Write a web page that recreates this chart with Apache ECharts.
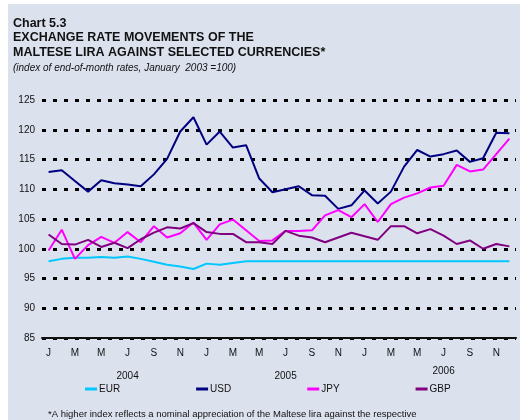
<!DOCTYPE html>
<html>
<head>
<meta charset="utf-8">
<script src="https://cdn.jsdelivr.net/npm/echarts@6/dist/echarts.min.js"></script>
<style>
  html, body { margin: 0; padding: 0; background: #ffffff; }
  #main { width: 520px; height: 420px; }
</style>
</head>
<body>
<div id="main"></div>
<script>
// month letters and years on the x axis
var monthLetters = ['J', 'F', 'M', 'A', 'M', 'J', 'J', 'A', 'S', 'O', 'N', 'D'];
var years = ['2004', '2005', '2006'];

// index of end-of-month rates, Jan 2003 = 100
var eur = [97.9, 98.3, 98.5, 98.5, 98.6, 98.5, 98.7, 98.3, 97.8, 97.3, 97.0, 96.6,
           97.5, 97.3, 97.6, 97.9, 97.9, 97.9, 97.9, 97.9, 97.9, 97.9, 97.9, 97.9,
           97.9, 97.9, 97.9, 97.9, 97.9, 97.9, 97.9, 97.9, 97.9, 97.9, 97.9, 97.9];
var usd = [112.9, 113.2, 111.4, 109.6, 111.5, 111.0, 110.8, 110.5, 112.5, 115.1, 119.7, 122.1,
           117.5, 119.7, 117.0, 117.4, 111.8, 109.5, 110.0, 110.5, 109.0, 108.9, 106.7, 107.3,
           109.8, 107.6, 109.6, 113.8, 116.6, 115.5, 115.9, 116.5, 114.6, 115.2, 119.5, 119.4];
var jpy = [99.7, 103.2, 98.3, 100.6, 102.0, 101.0, 102.8, 101.1, 103.8, 101.9, 102.6, 104.4,
           101.5, 104.1, 104.9, 103.1, 101.3, 101.4, 103.0, 103.0, 103.1, 105.6, 106.5, 105.3,
           107.5, 104.5, 107.5, 108.6, 109.3, 110.3, 110.6, 114.1, 113.0, 113.3, 115.9, 118.5];
var gbp = [102.4, 100.8, 100.7, 101.5, 100.3, 101.0, 100.1, 101.6, 102.7, 103.6, 103.4, 104.3,
           102.8, 102.5, 102.5, 101.1, 101.1, 100.8, 103.0, 102.2, 101.9, 101.1, 101.9, 102.7,
           102.1, 101.5, 103.8, 103.8, 102.6, 103.3, 102.2, 100.8, 101.4, 100.0, 100.8, 100.4];

var seriesNames = ['EUR', 'USD', 'JPY', 'GBP'];
var seriesColors = ['#00c8ff', '#000080', '#ff00ff', '#800080'];

var categories = [];
years.forEach(function (y) {
  monthLetters.forEach(function (m, k) {
    categories.push(y + '-' + (k + 1) + '|' + m);
  });
});

var myChart = echarts.init(document.getElementById('main'));
var font = 'Liberation Sans, Arial, sans-serif';

function makeSeries(name, data, color) {
  return {
    name: name,
    type: 'line',
    data: data,
    showSymbol: false,
    symbol: 'none',
    lineStyle: { color: color, width: 2 },
    itemStyle: { color: color },
    animation: false
  };
}

myChart.setOption({
  backgroundColor: '#ffffff',
  animation: false,
  graphic: [
    {
      type: 'rect',
      left: 8, top: 4,
      shape: { width: 512, height: 416 },
      style: { fill: '#dce1ee' },
      z: -10
    },
    {
      type: 'text',
      left: 48, top: 409,
      style: {
        text: '*A higher index reflects a nominal appreciation of the Maltese lira against the respective',
        font: '9.5px ' + font,
        fill: '#111111'
      }
    }
  ],
  title: {
    left: 13,
    top: 16,
    text: 'Chart 5.3\nEXCHANGE RATE MOVEMENTS OF THE\nMALTESE LIRA AGAINST SELECTED CURRENCIES*',
    subtext: '(index of end-of-month rates, January  2003 =100)',
    itemGap: 4,
    padding: 0,
    textStyle: {
      fontFamily: font,
      fontSize: 12.5,
      fontWeight: 'bold',
      lineHeight: 14.5,
      color: '#111111'
    },
    subtextStyle: {
      fontFamily: font,
      fontSize: 10,
      fontStyle: 'italic',
      color: '#111111'
    }
  },
  legend: {
    data: seriesNames,
    left: 85,
    top: 384,
    padding: 0,
    icon: 'rect',
    itemWidth: 12,
    itemHeight: 3,
    itemGap: 76,
    textStyle: { fontFamily: font, fontSize: 10, color: '#111111', padding: [0, 0, 0, -3] }
  },
  grid: { left: 42, right: 4, top: 100, bottom: 82 },
  xAxis: [
    {
      type: 'category',
      data: categories,
      boundaryGap: true,
      axisLine: { lineStyle: { color: '#111111', width: 2 } },
      axisTick: { show: false },
      axisLabel: {
        interval: 1,
        margin: 10,
        fontFamily: font,
        fontSize: 10,
        color: '#111111',
        formatter: function (v) { return v.split('|')[1]; }
      }
    },
    {
      type: 'category',
      data: categories,
      position: 'bottom',
      offset: 20,
      boundaryGap: true,
      axisLine: { show: false },
      axisTick: { show: false },
      axisLabel: {
        interval: 0,
        margin: 8,
        fontFamily: font,
        fontSize: 10,
        color: '#111111',
        formatter: function (v) {
          var parts = v.split('|')[0].split('-');
          if (parts[1] !== '7') return '';
          return parts[0] === '2006' ? '{up|' + parts[0] + '}' : '{dn|' + parts[0] + '}';
        },
        rich: {
          up: { fontFamily: font, fontSize: 10, color: '#111111' },
          dn: { fontFamily: font, fontSize: 10, color: '#111111', padding: [5, 0, 0, 0] }
        }
      }
    }
  ],
  yAxis: {
    type: 'value',
    min: 85,
    max: 125,
    interval: 5,
    axisLine: { show: false },
    axisTick: { show: false },
    axisLabel: { margin: 7, fontFamily: font, fontSize: 10, color: '#111111' },
    splitLine: {
      lineStyle: { color: '#000000', width: 3, type: [4, 7] }
    }
  },
  series: [
    makeSeries(seriesNames[0], eur, seriesColors[0]),
    makeSeries(seriesNames[1], usd, seriesColors[1]),
    makeSeries(seriesNames[2], jpy, seriesColors[2]),
    makeSeries(seriesNames[3], gbp, seriesColors[3])
  ]
});
</script>
</body>
</html>
